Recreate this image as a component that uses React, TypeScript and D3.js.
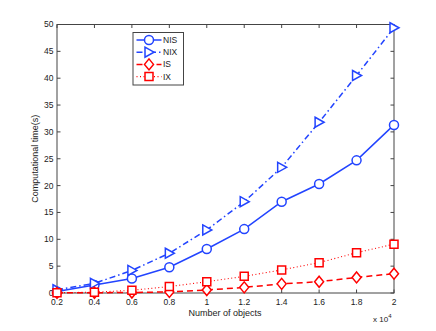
import React, { useRef, useEffect } from 'react';
import * as d3 from 'd3';

// number of objects (x 10^4)
const objects = [0.2, 0.4, 0.6, 0.8, 1.0, 1.2, 1.4, 1.6, 1.8, 2.0];
// computational time (s) per method
const nisTime = [0.3, 1.5, 2.7, 4.8, 8.2, 11.9, 17.0, 20.3, 24.7, 31.3];
const nixTime = [0.6, 1.8, 4.2, 7.4, 11.75, 17.0, 23.4, 31.8, 40.5, 49.4];
const isTime = [0.02, 0.05, 0.1, 0.2, 0.55, 1.05, 1.7, 2.1, 2.9, 3.6];
const ixTime = [0.05, 0.15, 0.5, 1.2, 2.1, 3.1, 4.3, 5.65, 7.5, 9.1];

const seriesNames = ['NIS', 'NIX', 'IS', 'IX'];
const xTicks = [0.2, 0.4, 0.6, 0.8, 1, 1.2, 1.4, 1.6, 1.8, 2];
const yTicks = [0, 5, 10, 15, 20, 25, 30, 35, 40, 45, 50];

const BLUE = '#2244ff';
const RED = '#ff0000';
const FONT = '"Liberation Sans", Arial, Helvetica, sans-serif';

type Marker = 'circle' | 'triangle' | 'diamond' | 'square';

const styles: { color: string; dash: string | null; width: number; marker: Marker }[] = [
  { color: BLUE, dash: null, width: 1.5, marker: 'circle' },
  { color: BLUE, dash: '6,3,1.5,3', width: 1.5, marker: 'triangle' },
  { color: RED, dash: '6,4', width: 1.5, marker: 'diamond' },
  { color: RED, dash: '1,2.5', width: 1.1, marker: 'square' },
];

function markerPath(m: Marker, x: number, y: number): string {
  if (m === 'triangle') return `M${x - 4},${y - 5}L${x + 5},${y}L${x - 4},${y + 5}Z`;
  if (m === 'diamond') return `M${x},${y - 5.5}L${x + 4.5},${y}L${x},${y + 5.5}L${x - 4.5},${y}Z`;
  if (m === 'square') return `M${x - 4},${y - 4}h8v8h-8Z`;
  return '';
}

export default function App() {
  const ref = useRef<SVGSVGElement>(null);

  useEffect(() => {
    const svg = d3.select(ref.current);
    svg.selectAll('*').remove();

    const width = 436;
    const height = 331;
    const left = 57;
    const right = 394;
    const top = 24.5;
    const bottom = 293;

    const x = d3.scaleLinear().domain([0.2, 2]).range([left, right]);
    const y = d3.scaleLinear().domain([0, 50]).range([bottom, top]);

    svg.attr('width', width).attr('height', height);
    svg.append('rect').attr('width', width).attr('height', height).attr('fill', '#fff');

    // plot box
    svg.append('rect')
      .attr('x', left).attr('y', top)
      .attr('width', right - left).attr('height', bottom - top)
      .attr('fill', 'none').attr('stroke', '#444').attr('stroke-width', 1);

    const tl = 3.5;
    const g = svg.append('g').attr('stroke', '#444').attr('stroke-width', 1);
    xTicks.forEach(t => {
      g.append('line').attr('x1', x(t)).attr('x2', x(t)).attr('y1', bottom).attr('y2', bottom - tl);
      g.append('line').attr('x1', x(t)).attr('x2', x(t)).attr('y1', top).attr('y2', top + tl);
    });
    yTicks.forEach(t => {
      g.append('line').attr('x1', left).attr('x2', left + tl).attr('y1', y(t)).attr('y2', y(t));
      g.append('line').attr('x1', right).attr('x2', right - tl).attr('y1', y(t)).attr('y2', y(t));
    });

    // tick labels
    svg.append('g').selectAll('text').data(xTicks).enter().append('text')
      .attr('x', d => x(d)).attr('y', bottom + 12)
      .attr('text-anchor', 'middle')
      .style('font-family', FONT).style('font-size', '8.5px').attr('fill', '#222')
      .text(d => String(d));
    svg.append('g').selectAll('text').data(yTicks).enter().append('text')
      .attr('x', left - 3.5).attr('y', d => y(d)).attr('dy', '0.35em')
      .attr('text-anchor', 'end')
      .style('font-family', FONT).style('font-size', '8.5px').attr('fill', '#222')
      .text(d => String(d));

    // axis labels
    svg.append('text')
      .attr('x', 225).attr('y', 316)
      .attr('text-anchor', 'middle')
      .style('font-family', FONT).style('font-size', '9px').attr('fill', '#222')
      .text('Number of objects');
    svg.append('text')
      .attr('transform', `translate(38,${(top + bottom) / 2}) rotate(-90)`)
      .attr('text-anchor', 'middle')
      .style('font-family', FONT).style('font-size', '9px').attr('fill', '#222')
      .text('Computational time(s)');
    const exp = svg.append('text')
      .attr('x', 373).attr('y', 322)
      .style('font-family', FONT).style('font-size', '8px').attr('fill', '#222');
    exp.append('tspan').text('x 10');
    exp.append('tspan').attr('dy', -4).style('font-size', '6px').text('4');

    // series
    const allSeries = [nisTime, nixTime, isTime, ixTime];
    const line = d3.line<number>().x((_, i) => x(objects[i])).y(d => y(d));

    allSeries.forEach((vals, si) => {
      const st = styles[si];
      svg.append('path')
        .attr('d', line(vals))
        .attr('fill', 'none')
        .attr('stroke', st.color)
        .attr('stroke-width', st.width)
        .attr('stroke-dasharray', st.dash);
      const mg = svg.append('g')
        .attr('fill', '#fff').attr('stroke', st.color).attr('stroke-width', 1.5);
      vals.forEach((v, i) => {
        if (st.marker === 'circle') {
          mg.append('circle').attr('cx', x(objects[i])).attr('cy', y(v)).attr('r', 4.5);
        } else {
          mg.append('path').attr('d', markerPath(st.marker, x(objects[i]), y(v)));
        }
      });
    });

    // legend
    const lx = 133;
    const ly = 32.5;
    svg.append('rect')
      .attr('x', lx).attr('y', ly).attr('width', 50.5).attr('height', 52.5)
      .attr('fill', '#fff').attr('stroke', '#444').attr('stroke-width', 1);
    seriesNames.forEach((name, i) => {
      const st = styles[i];
      const cy = 40 + i * 12.2;
      svg.append('line')
        .attr('x1', 136.5).attr('x2', 161.5).attr('y1', cy).attr('y2', cy)
        .attr('stroke', st.color).attr('stroke-width', st.width)
        .attr('stroke-dasharray', st.dash);
      const mg = svg.append('g')
        .attr('fill', '#fff').attr('stroke', st.color).attr('stroke-width', 1.5);
      if (st.marker === 'circle') {
        mg.append('circle').attr('cx', 149).attr('cy', cy).attr('r', 4.5);
      } else {
        mg.append('path').attr('d', markerPath(st.marker, 149, cy));
      }
      svg.append('text')
        .attr('x', 163).attr('y', cy).attr('dy', '0.35em')
        .style('font-family', FONT).style('font-size', '8.5px').attr('fill', '#222')
        .text(name);
    });
  }, []);

  return <svg ref={ref} style={{ position: 'absolute', left: 0, top: 0, display: 'block' }} />;
}
